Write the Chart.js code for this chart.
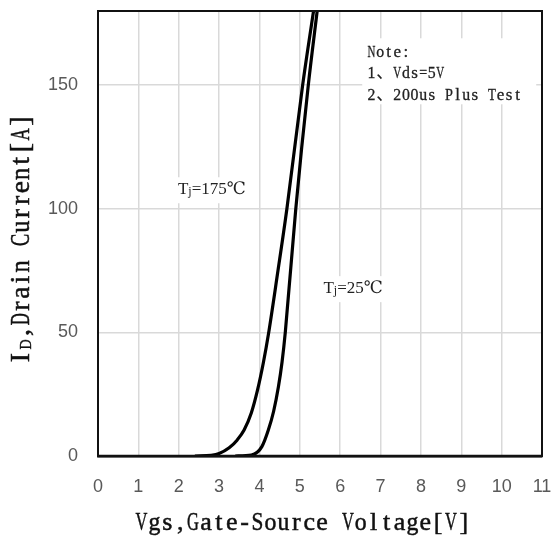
<!DOCTYPE html>
<html>
<head>
<meta charset="utf-8">
<script src="https://cdn.jsdelivr.net/npm/chart.js@4.4.1/dist/chart.umd.min.js"></script>
<style>
  html, body { margin: 0; padding: 0; background: #fff; }
  #wrap { width: 554px; height: 537px; }
</style>
</head>
<body>
<div id="wrap"><canvas id="transferChart"></canvas></div>
<script>
// axis ticks
const vgsTicks = [0, 1, 2, 3, 4, 5, 6, 7, 8, 9, 10, 11];
const idTicks = [0, 50, 100, 150];

// Tj = 175 C transfer curve
const vgsHot = [2.40, 2.80, 3.00, 3.25, 3.45, 3.62, 3.80, 3.95, 4.10, 4.22, 4.45, 4.68, 5.07, 5.34];
const idHot = [0, 0.3, 1.0, 3.3, 6.5, 10.5, 17.5, 26.5, 38, 49, 74, 100, 150, 180];

// Tj = 25 C transfer curve
const vgsRoom = [3.40, 3.80, 4.06, 4.22, 4.35, 4.47, 4.56, 4.64, 4.90, 5.21, 5.43];
const idRoom = [0, 0.4, 3.8, 10.5, 18, 28, 38, 50, 100, 150, 180];

const noteLines = ['Note:', '1、Vds=5V', '2、200us Plus Test'];

const SERIF = '"Liberation Serif", "DejaVu Serif", "Noto Sans CJK SC", serif';
const SANS = '"Liberation Sans", sans-serif';

function toPoints(xs, ys) {
  return xs.map((x, i) => ({ x, y: ys[i] }));
}

// fixed-cell text: each glyph centred in its own cell, narrowed only when too wide
function monoText(ctx, text, x, y, cell, size, weight) {
  ctx.font = size + 'px ' + SERIF;
  ctx.textAlign = 'center';
  ctx.lineWidth = weight || 0;
  ctx.strokeStyle = ctx.fillStyle;
  let cx = x;
  for (const ch of text) {
    const w = ch.charCodeAt(0) > 0x2000 ? cell * 2 : cell;
    const gw = ctx.measureText(ch).width;
    const sx = Math.min(1, (w * 0.92) / gw);
    ctx.save();
    ctx.translate(cx + w / 2, y);
    ctx.scale(sx, 1);
    ctx.fillText(ch, 0, 0);
    if (weight) ctx.strokeText(ch, 0, 0);
    ctx.restore();
    cx += w;
  }
  return cx;
}

// "Tj=..." label with subscript j, centred on (cx, cy)
function tjLabel(ctx, cx, cy, rest) {
  const big = '17px ' + SERIF, small = '12px ' + SERIF;
  ctx.font = big;
  const wT = ctx.measureText('T').width;
  const wR = ctx.measureText(rest).width;
  ctx.font = small;
  const wj = ctx.measureText('j').width;
  const total = wT + wj + wR;
  let x = cx - total / 2;
  ctx.fillStyle = '#fff';
  ctx.fillRect(x - 8, cy - 12, total + 16, 26);
  ctx.fillStyle = '#222';
  ctx.textAlign = 'left';
  ctx.textBaseline = 'middle';
  ctx.font = big;
  ctx.fillText('T', x, cy);
  x += wT;
  ctx.font = small;
  ctx.fillText('j', x, cy + 3);
  x += wj;
  ctx.font = big;
  ctx.fillText(rest, x, cy);
}

const decorations = {
  id: 'decorations',
  beforeDatasetsDraw(chart) {
    const { ctx, scales: { x, y } } = chart;
    ctx.save();

    // note block
    const nx = x.getPixelForValue(6.67);
    const ny = y.getPixelForValue(163.3);
    ctx.fillStyle = '#fff';
    ctx.fillRect(nx - 5, ny - 14, 174, 66);
    ctx.fillStyle = '#222';
    ctx.textBaseline = 'middle';
    noteLines.forEach((line, i) => {
      monoText(ctx, line, nx, ny + i * 21.5, 8.6, 17, 0.3);
    });

    tjLabel(ctx, x.getPixelForValue(2.82), y.getPixelForValue(107.9), '=175℃');
    tjLabel(ctx, x.getPixelForValue(6.32), y.getPixelForValue(67.9), '=25℃');
    ctx.restore();
  },
  afterDraw(chart) {
    const { ctx, chartArea: a } = chart;
    ctx.save();
    // plot frame
    ctx.strokeStyle = '#111';
    ctx.lineWidth = 2;
    ctx.strokeRect(a.left, a.top, a.right - a.left, a.bottom - a.top);
    ctx.lineWidth = 2.5;
    ctx.beginPath();
    ctx.moveTo(a.left, a.bottom);
    ctx.lineTo(a.right, a.bottom);
    ctx.stroke();

    // axis titles
    ctx.fillStyle = '#111';
    ctx.textBaseline = 'middle';
    monoText(ctx, 'Vgs,Gate-Source Voltage[V]', 135, 523, 12.9, 26, 0.5);

    ctx.translate(22, 365);
    ctx.rotate(-Math.PI / 2);
    let t = monoText(ctx, 'I', 0, 0, 15, 28, 0.5);
    t = monoText(ctx, 'D', t, 5, 11, 17, 0.4);
    monoText(ctx, ',Drain Current[A]', t, 0, 13.2, 28, 0.5);
    ctx.restore();
  }
};

new Chart(document.getElementById('transferChart'), {
  type: 'scatter',
  data: {
    datasets: [
      {
        label: 'Tj=175℃',
        data: toPoints(vgsHot, idHot),
        showLine: true,
        borderColor: '#000',
        borderWidth: 3.2,
        pointRadius: 0,
        cubicInterpolationMode: 'monotone'
      },
      {
        label: 'Tj=25℃',
        data: toPoints(vgsRoom, idRoom),
        showLine: true,
        borderColor: '#000',
        borderWidth: 3.2,
        pointRadius: 0,
        cubicInterpolationMode: 'monotone'
      }
    ]
  },
  options: {
    responsive: true,
    maintainAspectRatio: false,
    animation: false,
    layout: { padding: { top: 11, right: 12, left: 0, bottom: 0 } },
    plugins: {
      legend: { display: false },
      tooltip: { enabled: false }
    },
    scales: {
      x: {
        type: 'linear',
        min: 0,
        max: 11,
        afterBuildTicks: s => { s.ticks = vgsTicks.map(v => ({ value: v })); },
        afterFit: s => {
          s.height = 81;
          s.paddingLeft = 0;
          s.paddingRight = 0;
        },
        ticks: {
          color: '#595959',
          font: { family: SANS, size: 18 },
          padding: 20,
          maxRotation: 0
        },
        grid: { color: '#d9d9d9', lineWidth: 1.5, drawTicks: false },
        border: { color: '#111', width: 2.5 }
      },
      y: {
        min: 0,
        max: 180,
        afterBuildTicks: s => { s.ticks = idTicks.map(v => ({ value: v })); },
        afterFit: s => {
          s.width = 98;
          s.paddingTop = 0;
          s.paddingBottom = 0;
        },
        ticks: {
          color: '#595959',
          font: { family: SANS, size: 18 },
          padding: 20
        },
        grid: { color: '#d9d9d9', lineWidth: 1.5, drawTicks: false },
        border: { color: '#111', width: 2 }
      }
    }
  },
  plugins: [decorations]
});
</script>
</body>
</html>
